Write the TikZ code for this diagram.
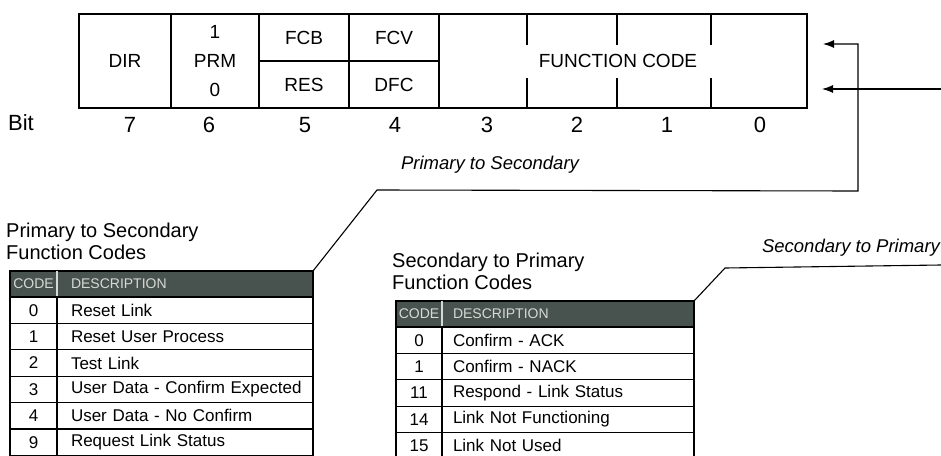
\documentclass[tikz,border=0pt]{standalone}
\usepackage{fontspec}
\setmainfont{Liberation Sans}
\usepackage{tikz}
\usetikzlibrary{positioning,calc,arrows.meta}
\definecolor{headgray}{RGB}{72,82,78}
\definecolor{headink}{RGB}{214,218,214}

\begin{document}
\begin{tikzpicture}[x=1pt,y=-1pt,
  fld/.style={draw,line width=1.3pt,inner sep=0pt,outer sep=0pt,align=center,
              font=\fontsize{19}{29}\selectfont},
  bitnum/.style={inner sep=0pt,font=\fontsize{22}{26}\selectfont},
  ttl/.style={inner sep=0pt,align=left,font=\fontsize{20}{22}\selectfont},
  lbl/.style={inner sep=0pt,font=\fontsize{18.5}{22}\selectfont\itshape},
  cell/.style={draw,line width=1.3pt,inner sep=0pt,outer sep=0pt,minimum height=26.4pt,
               font=\fontsize{17}{20}\selectfont},
  ccell/.style={cell,minimum width=47pt},
  dcell/.style={cell,align=left,inner xsep=8pt,text width=240pt,
                execute at begin node={\hspace*{6pt}}},
  rcell/.style={cell,minimum width=46pt},
  rdcell/.style={cell,align=left,inner xsep=8pt,text width=236pt,
                 execute at begin node={\hspace*{3pt}}},
  hcell/.style={draw,line width=1.3pt,fill=headgray,text=headink,inner sep=0pt,outer sep=0pt,
                minimum height=26pt,font=\fontsize{14}{16}\selectfont},
  link/.style={line width=1.1pt},
  arr/.style={link,-{Latex[length=11pt,width=8pt]}}]
  \useasboundingbox (0,0) rectangle (941,455);

  \node[fld,minimum width=92pt,minimum height=94pt] (dir) at (125,61) {DIR};
  \node[fld,minimum width=88pt,minimum height=94pt] (prm) at (215,61) {1\\PRM\\0};
  \node[fld,minimum width=90pt,minimum height=47pt] (fcb) at (304,37.5) {FCB};
  \node[fld,minimum width=90pt,minimum height=47pt] (res) at (304,84.5) {RES};
  \node[fld,minimum width=90pt,minimum height=47pt] (fcv) at (394,37.5) {FCV};
  \node[fld,minimum width=90pt,minimum height=47pt] (dfc) at (394,84.5) {DFC};
  \node[fld,minimum width=368pt,minimum height=94pt] (fcode) at (623,61) {};
  \foreach \x in {527,617,711}
    \draw[line width=1.3pt] (\x,0 |- fcode.north) -- (\x,0 |- fcode.south);
  \node[fld,draw=none,fill=white,minimum width=196pt,minimum height=33pt] (fclbl) at (618,61) {FUNCTION CODE};

  \node[bitnum] (bit) at (21,123) {Bit};
  \node[bitnum] (b7) at (130,125) {7};
  \node[bitnum] (b6) at (209,125) {6};
  \node[bitnum] (b5) at (305,125) {5};
  \node[bitnum] (b4) at (395,125) {4};
  \node[bitnum] (b3) at (487,125) {3};
  \node[bitnum] (b2) at (577,125) {2};
  \node[bitnum] (b1) at (667,125) {1};
  \node[bitnum] (b0) at (760,125) {0};

  \node[lbl] (pslbl) at (490,165) {Primary to Secondary};
  \node[lbl] (splbl) at (851,248) {Secondary to Primary};

  \node[ttl,anchor=west] (pstitle) at (6,241) {Primary to Secondary\\Function Codes};
  \node[hcell,minimum width=47pt] (pshc) at (33.5,284) {CODE};
  \node[hcell,align=left,inner xsep=14pt,text width=228pt,right=0pt of pshc] (pshd) {DESCRIPTION};
  \draw[headink,line width=1.2pt] (pshc.north east) -- (pshc.south east);
  \node[ccell,below=0pt of pshc] (ps0) {0};
  \node[dcell,right=0pt of ps0] (psd0) {Reset Link};
  \node[ccell,below=0pt of ps0] (ps1) {1};
  \node[dcell,right=0pt of ps1] (psd1) {Reset User Process};
  \node[ccell,below=0pt of ps1] (ps2) {2};
  \node[dcell,right=0pt of ps2] (psd2) {Test Link};
  \node[ccell,below=0pt of ps2] (ps3) {3};
  \node[dcell,right=0pt of ps3] (psd3) {User Data - Confirm Expected};
  \node[ccell,below=0pt of ps3] (ps4) {4};
  \node[dcell,right=0pt of ps4] (psd4) {User Data - No Confirm};
  \node[ccell,below=0pt of ps4] (ps9) {9};
  \node[dcell,right=0pt of ps9] (psd9) {Request Link Status};

  \node[ttl,anchor=west] (sptitle) at (392,271) {Secondary to Primary\\Function Codes};
  \node[hcell,minimum width=46pt] (sphc) at (419,314) {CODE};
  \node[hcell,align=left,inner xsep=11pt,text width=230pt,right=0pt of sphc] (sphd) {DESCRIPTION};
  \draw[headink,line width=1.2pt] (sphc.north east) -- (sphc.south east);
  \node[rcell,below=0pt of sphc] (sp0) {0};
  \node[rdcell,right=0pt of sp0] (spd0) {Confirm - ACK};
  \node[rcell,below=0pt of sp0] (sp1) {1};
  \node[rdcell,right=0pt of sp1] (spd1) {Confirm - NACK};
  \node[rcell,below=0pt of sp1] (sp11) {11};
  \node[rdcell,right=0pt of sp11] (spd11) {Respond - Link Status};
  \node[rcell,below=0pt of sp11] (sp14) {14};
  \node[rdcell,right=0pt of sp14] (spd14) {Link Not Functioning};
  \node[rcell,below=0pt of sp14] (sp15) {15};
  \node[rdcell,right=0pt of sp15] (spd15) {Link Not Used};

  \coordinate (ps-bend) at (377,190);
  \coordinate (ps-turn) at (858,191);
  \coordinate (ps-tip) at (823,44);
  \draw[arr] (pshd.north east) -- (ps-bend) -- (ps-turn) |- (ps-tip);
  \coordinate (sp-bend) at (725,268);
  \coordinate (sp-out) at (941,265);
  \draw[link] (sphd.north east) -- (sp-bend) -- (sp-out);
  \coordinate (sp-in) at (941,89);
  \coordinate (sp-tip) at (822,89);
  \draw[arr] (sp-in) -- (sp-tip);
\end{tikzpicture}
\end{document}
